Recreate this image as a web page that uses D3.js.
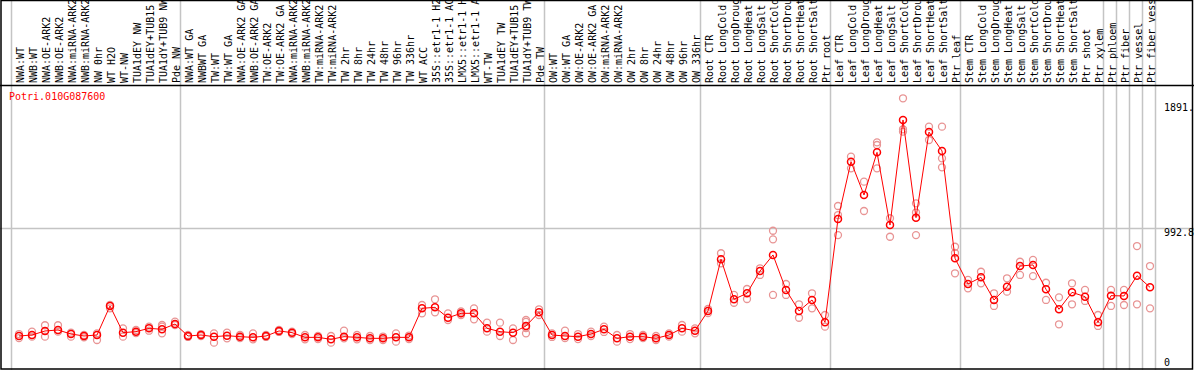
<!DOCTYPE html>
<html>
<head>
<meta charset="utf-8">
<script src="https://cdn.jsdelivr.net/npm/d3@7"></script>
<style>
  body { margin: 0; background: #fff; }
  svg { display: block; font-family: "DejaVu Sans Mono", monospace; font-size: 10px; }
</style>
</head>
<body>
<svg id="chart" width="1194" height="370"></svg>
<script>
// sample labels, in column order
let labels = [
  "NWA:WT", "NWB:WT", "NWA:OE-ARK2", "NWB:OE-ARK2", "NWA:miRNA-ARK2", "NWB:miRNA-ARK2",
  "NW 0hr", "WT H2O", "WT-NW", "TUA1dEY NW", "TUA1dEY+TUB15", "TUA1dY+TUB9 NW", "Pde NW",
  "NWA:WT GA", "NWBWT GA", "TW:WT", "TW:WT GA", "NWA:OE-ARK2 GA", "NWB:OE-ARK2 GA",
  "TW:OE-ARK2", "TW:OE-ARK2 GA", "NWA:miRNA-ARK2", "NWB:miRNA-ARK2", "TW:miRNA-ARK2", "TW:miRNA-ARK2",
  "TW 2hr", "TW 8hr", "TW 24hr", "TW 48hr", "TW 96hr", "TW 336hr", "WT ACC",
  "35S::etr1-1 H2", "35S::etr1-1 AC", "LMX5::etr1-1 H", "LMX5::etr1-1 A", "WT-TW",
  "TUA1dEY TW", "TUA1dEY+TUB15", "TUA1dY+TUB9 TW", "Pde TW",
  "OW:WT", "OW:WT GA", "OW:OE-ARK2", "OW:OE-ARK2 GA", "OW:miRNA-ARK2", "OW:miRNA-ARK2",
  "OW 2hr", "OW 8hr", "OW 24hr", "OW 48hr", "OW 96hr", "OW 336hr",
  "Root CTR", "Root LongCold", "Root LongDroug", "Root LongHeat", "Root LongSalt",
  "Root ShortCold", "Root ShortDrou", "Root ShortHeat", "Root ShortSalt", "Ptr root",
  "Leaf CTR", "Leaf LongCold", "Leaf LongDroug", "Leaf LongHeat", "Leaf LongSalt",
  "Leaf ShortCold", "Leaf ShortDrou", "Leaf ShortHeat", "Leaf ShortSalt", "Ptr leaf",
  "Stem CTR", "Stem LongCold", "Stem LongDroug", "Stem LongHeat", "Stem LongSalt",
  "Stem ShortCold", "Stem ShortDrou", "Stem ShortHeat", "Stem ShortSalt", "Ptr shoot", "Ptr xylem",
  "Ptr phloem", "Ptr fiber", "Ptr vessel", "Ptr fiber vess"
];

// number of columns in each block (grey separators between them)
let groupSizes = [13, 28, 12, 10, 10, 11, 1, 1, 1, 1];

// mean expression per column
let means = [
  216, 223, 252, 259, 230, 216, 223, 432, 240, 247, 271, 264, 302,
  216, 223, 211, 218, 211, 206, 216, 252, 240, 206, 206, 192, 211, 206, 199, 199, 206, 206,
  415, 422, 347, 379, 379, 271, 247, 240, 288, 386,
  223, 216, 211, 230, 264, 199, 211, 211, 199, 223, 271, 254,
  396, 768, 480, 523, 683, 799, 547, 396, 475, 314,
  1058, 1470, 1230, 1537, 1014, 1770, 1067, 1683, 1547, 775,
  590, 638, 475, 570, 719, 727, 552, 408, 530, 499, 314,
  506, 504, 650, 566
];

// replicate values per column
let reps = [
  [230, 201], [247, 211], [293, 211], [293, 247], [240, 211], [206, 223], [187, 235],
  [415, 439], [271, 211], [259, 237], [283, 254], [295, 283, 235], [319, 295],
  [223, 209], [230, 216], [168, 235], [240, 199], [223, 201], [235, 192], [223, 209],
  [259, 245], [247, 230], [192, 223], [216, 194], [216, 168], [254, 199], [223, 192],
  [187, 216], [212, 187], [235, 175], [219, 194], [439, 379], [480, 386], [379, 331],
  [392, 367], [415, 336], [312, 247], [312, 216], [271, 187], [331, 235, 317, 273], [408, 367],
  [235, 209], [254, 201], [230, 194], [247, 216], [283, 245], [223, 175], [230, 194],
  [223, 201], [216, 187], [235, 211], [295, 247], [271, 235],
  [410, 381], [811, 739], [511, 455], [554, 482], [703, 655], [973, 911, 511],
  [590, 511], [444, 347], [523, 415], [367, 283],
  [1151, 1086, 942], [1506, 1422], [1326, 1115], [1609, 1590, 1422], [1063, 930],
  [1926, 1703, 1686], [1170, 942, 1104], [1722, 1626], [1722, 1494, 1429], [858, 667, 813],
  [619, 559], [678, 595], [523, 432], [631, 535], [750, 655], [763, 647], [599, 475],
  [494, 300], [595, 444], [547, 468], [367, 288],
  [547, 432], [547, 439], [863, 444], [719, 415]
];

let geneName = "Potri.010G087600";
let yTickValues = [0, 992.8, 1891];
let yTickLabels = ["0", "992.8", "1891."];

let svg = d3.select("#chart");
let W = 1194, H = 370;
let headerBottom = 85;

let x = d3.scaleBand()
  .domain(d3.range(labels.length))
  .range([11, 1155]);

let y = d3.scaleLinear()
  .domain([0, 1985.6])
  .range([366, 90]);

// group separators
let bounds = [0];
groupSizes.forEach(n => bounds.push(bounds[bounds.length - 1] + n));

svg.append("g")
  .selectAll("line")
  .data(bounds)
  .join("line")
    .attr("x1", d => 11 + d * x.bandwidth() + 0.5)
    .attr("x2", d => 11 + d * x.bandwidth() + 0.5)
    .attr("y1", 0)
    .attr("y2", H)
    .attr("stroke", "#c4c4c4")
    .attr("stroke-width", 1.5);

// horizontal grid at the middle tick
svg.append("line")
  .attr("x1", 0).attr("x2", W)
  .attr("y1", Math.round(y(992.8)) + 0.5)
  .attr("y2", Math.round(y(992.8)) + 0.5)
  .attr("stroke", "#c4c4c4")
  .attr("stroke-width", 1.5);

// frame + header line
svg.append("rect")
  .attr("x", 1).attr("y", 0.5)
  .attr("width", 1191.5).attr("height", 368.5)
  .attr("fill", "none")
  .attr("stroke", "#000")
  .attr("stroke-width", 1.5);

svg.append("line")
  .attr("x1", 0).attr("x2", W)
  .attr("y1", headerBottom + 0.5).attr("y2", headerBottom + 0.5)
  .attr("stroke", "#000")
  .attr("stroke-width", 1.5);

// column labels, vertical
svg.append("g")
  .selectAll("text")
  .data(labels)
  .join("text")
    .attr("transform", (d, i) => `translate(${x(i) + x.bandwidth() / 2 + 2.5},83) rotate(-90)`)
    .attr("dy", "0.35em")
    .attr("fill", "#000")
    .text(d => d);

// gene title
svg.append("text")
  .attr("x", 9)
  .attr("y", 100)
  .attr("fill", "#ff0000")
  .text(geneName);

// y labels on the right
svg.append("g")
  .selectAll("text")
  .data(yTickValues)
  .join("text")
    .attr("x", 1164)
    .attr("y", (d, i) => i === 0 ? y(d) : y(d) + 8)
    .attr("fill", "#000")
    .text((d, i) => yTickLabels[i]);

let px = i => x(i) + 8;

// replicates
let repPts = [];
reps.forEach((r, i) => r.forEach(v => repPts.push({i: i, v: v})));

svg.append("g")
  .selectAll("circle")
  .data(repPts)
  .join("circle")
    .attr("cx", d => px(d.i))
    .attr("cy", d => y(d.v))
    .attr("r", 3.5)
    .attr("fill", "none")
    .attr("stroke", "#e89494")
    .attr("stroke-width", 1.3);

// mean line
svg.append("path")
  .datum(means)
  .attr("fill", "none")
  .attr("stroke", "#ff0000")
  .attr("stroke-width", 1)
  .attr("d", d3.line().x((d, i) => px(i)).y(d => y(d)));

// mean markers
svg.append("g")
  .selectAll("circle")
  .data(means)
  .join("circle")
    .attr("cx", (d, i) => px(i))
    .attr("cy", d => y(d))
    .attr("r", 3.5)
    .attr("fill", "none")
    .attr("stroke", "#ff0000")
    .attr("stroke-width", 1.5);
</script>
</body>
</html>
